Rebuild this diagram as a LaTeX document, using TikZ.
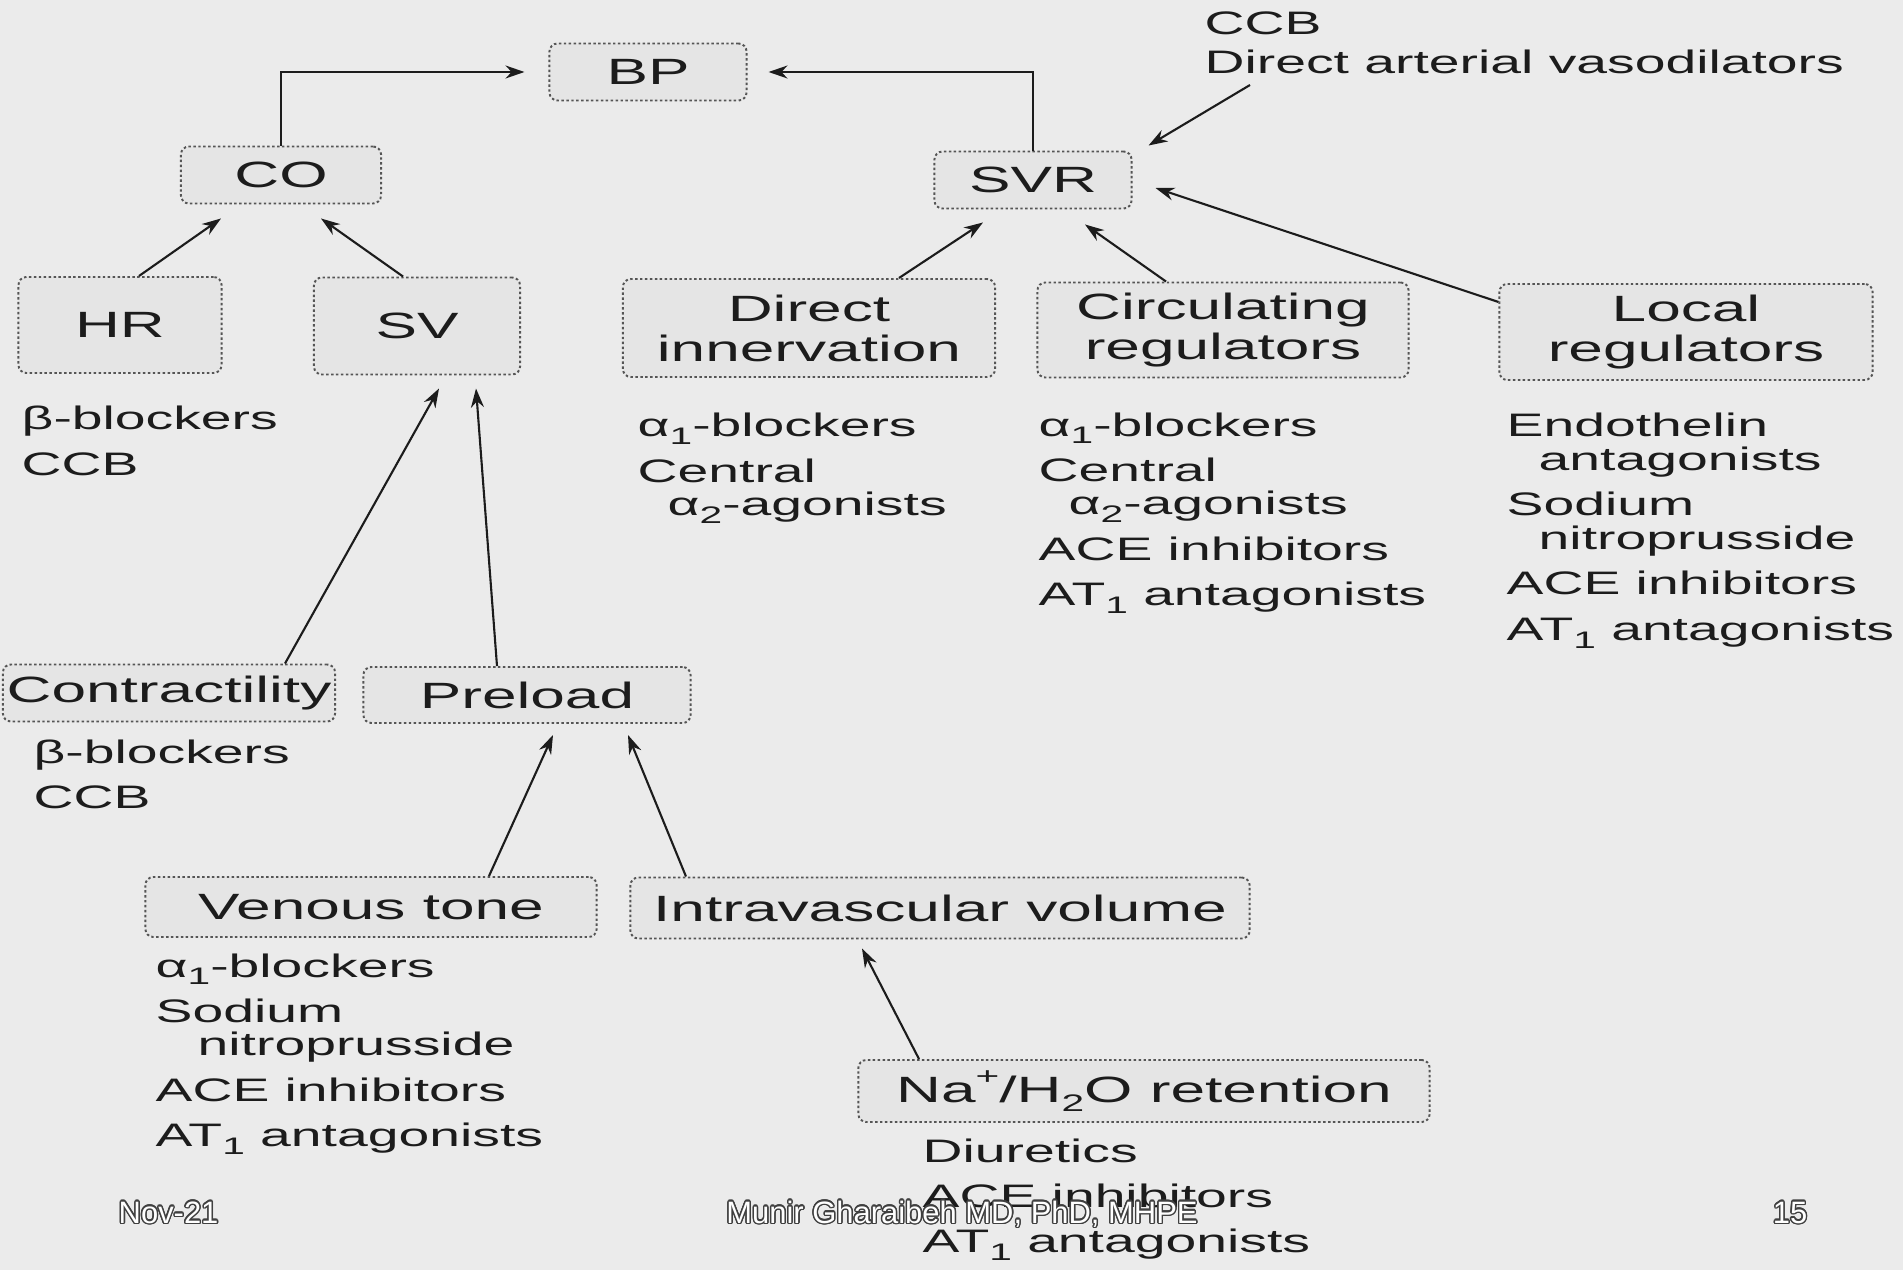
\documentclass[tikz,border=0pt]{standalone}
\usepackage{fontspec}
\usepackage{contour}
\usetikzlibrary{calc,arrows.meta}
\setmainfont{Liberation Sans}
\newfontfamily\widefont[FakeStretch=1.7]{Liberation Sans}
\contourlength{0.4pt}
\definecolor{bgcol}{RGB}{235,235,235}
\definecolor{boxfill}{RGB}{229,229,229}
\definecolor{inkcol}{RGB}{28,28,28}
% small raised / lowered figures
\newcommand{\lo}[1]{\raisebox{-0.45ex}{\fontsize{6.8}{7}\selectfont #1}}
\newcommand{\hi}[1]{\raisebox{0.95ex}{\fontsize{6.8}{7}\selectfont #1}}
\newcommand{\gap}{0.12cm}
% list whose baseline is its first line
\newcommand{\druglist}[1]{\begin{tabular}[t]{@{}l@{}}#1\end{tabular}}

\begin{document}
\begin{tikzpicture}[x=0.01cm, y=-0.01cm, inkcol,
	box/.style={draw=inkcol!75, fill=boxfill, rounded corners=0.08cm, dash pattern=on 0.7pt off 0.7pt, line width=0.55pt, inner sep=0pt, align=center, font=\widefont\fontsize{10.4}{11.4}\selectfont},
	drugs/.style={anchor=base west, inner sep=0pt, font=\widefont\fontsize{9.25}{9.4}\selectfont},
	arr/.style={-{Stealth[length=0.19cm,width=0.13cm]}, line width=0.6pt, draw=inkcol},
	foot/.style={inner sep=0pt, text=white, font=\fontsize{8.8}{9}\selectfont}]
\useasboundingbox (0,0) rectangle (1903,1270);
\fill[bgcol] (0,0) rectangle (1903,1270);

% boxes
\node[box, minimum width=1.97cm, minimum height=0.57cm] (bp) at (648,72) {BP};
\node[box, minimum width=2cm, minimum height=0.57cm] (co) at (281,175) {CO};
\node[box, minimum width=1.97cm, minimum height=0.57cm] (svr) at (1033,180) {SVR};
\node[box, minimum width=2.03cm, minimum height=0.96cm] (hr) at (120,325) {HR};
\node[box, minimum width=2.06cm, minimum height=0.97cm] (sv) at (417,326) {SV};
\node[box, minimum width=3.72cm, minimum height=0.98cm] (dirinn) at (809,328) {Direct\\innervation};
\node[box, minimum width=3.71cm, minimum height=0.95cm] (circreg) at (1223,330) {Circulating\\regulators};
\node[box, minimum width=3.73cm, minimum height=0.96cm] (localreg) at (1686,332) {Local\\regulators};
\node[box, minimum width=3.32cm, minimum height=0.57cm] (contr) at (169,693) {Contractility};
\node[box, minimum width=3.27cm, minimum height=0.56cm] (preload) at (527,695) {Preload};
\node[box, minimum width=4.51cm, minimum height=0.6cm] (venous) at (371,907) {Venous tone};
\node[box, minimum width=6.19cm, minimum height=0.61cm] (intravol) at (940,908) {Intravascular volume};
\node[box, minimum width=5.71cm, minimum height=0.62cm] (naret) at (1144,1091) {Na\hi{+}/H\lo{2}O retention};

% drug lists
\node[drugs] (ccbdrugs) at (1204,35) {\druglist{CCB\\[0.05cm]Direct arterial vasodilators}};
\node[drugs] (hrdrugs) at (21,430) {\druglist{β-blockers\\[\gap]CCB}};
\node[drugs] (contrdrugs) at (33,763) {\druglist{β-blockers\\[\gap]CCB}};
\node[drugs] (dirdrugs) at (637,437) {\druglist{α\lo{1}-blockers\\[\gap]Central\\\hspace*{0.3cm}α\lo{2}-agonists}};
\node[drugs] (circdrugs) at (1038,436) {\druglist{α\lo{1}-blockers\\[\gap]Central\\\hspace*{0.3cm}α\lo{2}-agonists\\[\gap]ACE inhibitors\\[\gap]AT\lo{1} antagonists}};
\node[drugs] (localdrugs) at (1506,437) {\druglist{Endothelin\\\hspace*{0.32cm}antagonists\\[\gap]Sodium\\\hspace*{0.32cm}nitroprusside\\[\gap]ACE inhibitors\\[\gap]AT\lo{1} antagonists}};
\node[drugs] (vendrugs) at (155,977) {\druglist{α\lo{1}-blockers\\[\gap]Sodium\\\hspace*{0.42cm}nitroprusside\\[\gap]ACE inhibitors\\[\gap]AT\lo{1} antagonists}};
\node[drugs] (nadrugs) at (922,1162) {\druglist{Diuretics\\[\gap]ACE inhibitors\\[\gap]AT\lo{1} antagonists}};

% arrows
\draw[arr, shorten >=0.24cm] (co.north) |- (bp.west);
\draw[arr, shorten >=0.21cm] (svr.north) |- (bp.east);
\draw[arr] ($(hr.north)+(19,0)$) -- ($(co.south)+(-60,14)$);
\draw[arr] ($(sv.north)+(-14,0)$) -- ($(co.south)+(40,14)$);
\draw[arr] ($(dirinn.north)+(90,0)$) -- ($(svr.south)+(-50,13)$);
\draw[arr] ($(circreg.north)+(-57,0)$) -- ($(svr.south)+(52,15)$);
\draw[arr] ($(localreg.west)+(0,-30)$) -- ($(svr.east)+(23,8)$);
\coordinate (ccbtail) at (1250,85);
\draw[arr] (ccbtail) -- ($(svr.north east)+(16,-5)$);
\draw[arr] ($(contr.north)+(116,0)$) -- ($(sv.south)+(22,13)$);
\draw[arr] ($(preload.north)+(-30,0)$) -- ($(sv.south)+(59,13)$);
\draw[arr] ($(venous.north)+(118,0)$) -- ($(preload.south)+(26,11)$);
\draw[arr] ($(intravol.north)+(-254,0)$) -- ($(preload.south)+(101,11)$);
\draw[arr] ($(naret.north)+(-225,0)$) -- ($(intravol.south)+(-78,9)$);

% slide footer
\node[foot, anchor=base west] (datefoot) at (118,1223) {\contour{black!75}{Nov-21}};
\node[foot, anchor=base] (authorfoot) at (962,1223) {\contour{black!75}{Munir Gharaibeh MD, PhD, MHPE}};
\node[foot, anchor=base] (pagefoot) at (1790,1223) {\contour{black!75}{15}};
\end{tikzpicture}
\end{document}
